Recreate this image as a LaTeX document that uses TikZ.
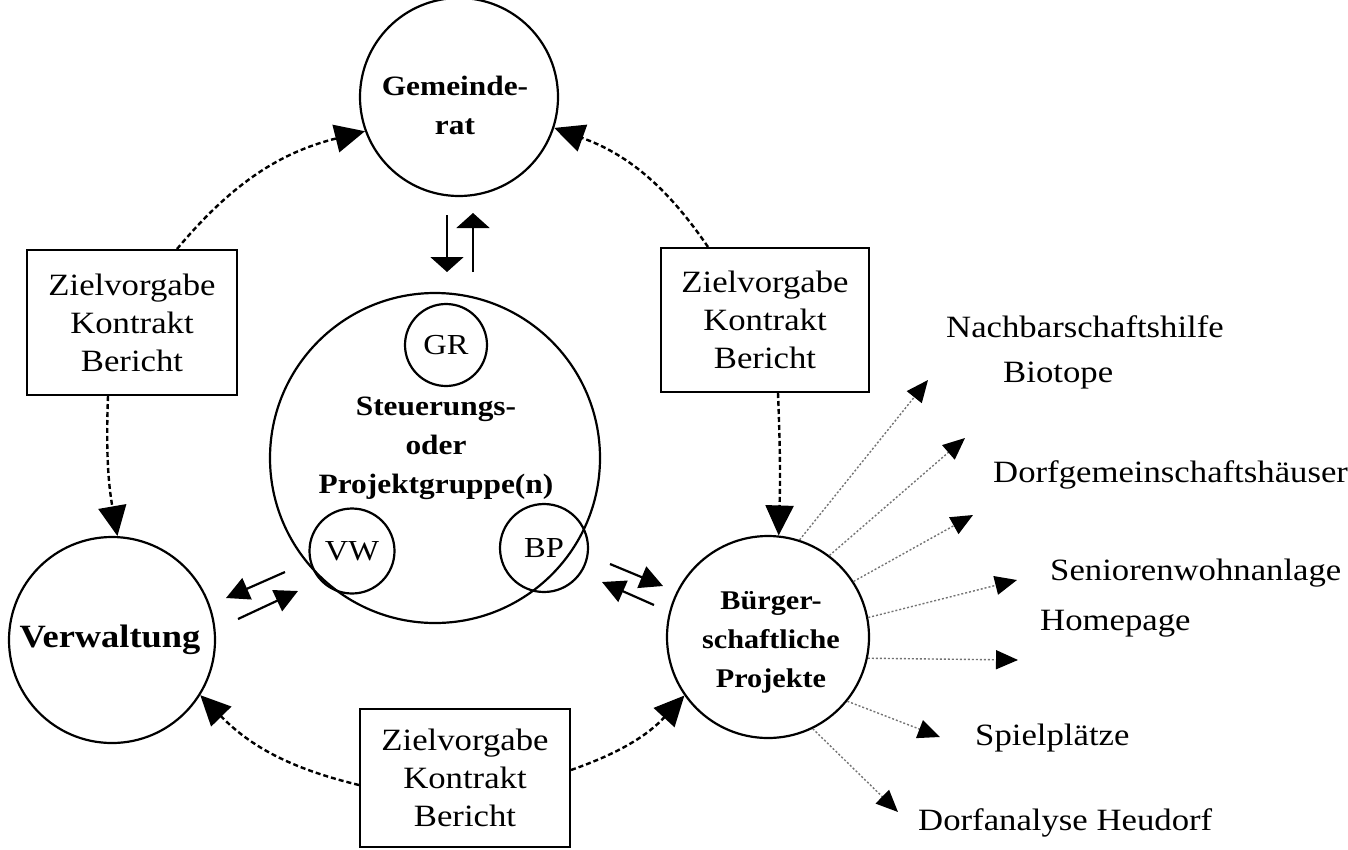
\documentclass[tikz,border=0pt]{standalone}
\usepackage{fontspec}
\setmainfont{Liberation Serif}[FakeStretch=1.12]
\usetikzlibrary{arrows.meta,calc}
\begin{document}
\begin{tikzpicture}[x=1pt,y=-1pt,
  txt/.style={font=\fontsize{31}{38}\selectfont, align=center, inner sep=0pt},
  btxt/.style={font=\fontsize{28}{39}\selectfont\bfseries, align=center, inner sep=0pt},
  lbl/.style={font=\fontsize{31}{38}\selectfont, inner sep=0pt, anchor=mid west},
  circ/.style={draw, circle, line width=2.2pt, minimum size=#1, inner sep=0pt},
  zbox/.style={draw, line width=2pt, minimum width=210pt, minimum height=#1, inner sep=0pt,
    font=\fontsize{31}{38}\selectfont, align=center},
  dsh/.style={line width=2.4pt, dash pattern=on 5pt off 3pt, -{Triangle[length=30pt,width=28pt]}},
  fan/.style={line width=1.4pt, black!55, dash pattern=on 2pt off 2pt, -{Triangle[length=22pt,width=19pt,black]}},
  dblv/.style={line width=2.2pt, -{Triangle[length=15pt,width=33pt]}},
  dbls/.style={line width=2.2pt, -{Triangle[length=23pt,width=23pt]}}
]
\useasboundingbox (0,0) rectangle (1348,849);

% main circles
\node[circ=198pt] (gem) at (459,97) {};
\node[btxt] (gemt) at (455,105) {Gemeinde-\\rat};
\node[circ=206pt] (vw) at (112,640) {};
\node[btxt, font=\fontsize{32.5}{39}\selectfont\bfseries] (vwt) at (110,640) {Verwaltung};
\node[circ=202pt] (bp) at (768,637) {};
\node[btxt, font=\fontsize{27}{39}\selectfont\bfseries] (bpt) at (771,642) {Bürger-\\schaftliche\\Projekte};

% steering group
\node[circ=330pt] (sg) at (435,458) {};
\node[btxt] (sgt) at (436,448) {Steuerungs-\\oder\\Projektgruppe(n)};
\node[circ=82pt, font=\fontsize{29}{34}\selectfont] (gr) at (446,345) {GR};
\node[circ=85pt, font=\fontsize{29}{34}\selectfont] (svw) at (352,551) {VW};
\node[circ=88pt, font=\fontsize{29}{34}\selectfont] (sbp) at (544,548) {BP};

% boxes
\node[zbox=145pt] (lb) at (132,322.5) {Zielvorgabe\\Kontrakt\\Bericht};
\node[zbox=144pt, minimum width=208pt] (rb) at (765,320) {Zielvorgabe\\Kontrakt\\Bericht};
\node[zbox=138pt] (bb) at (465,778) {Zielvorgabe\\Kontrakt\\Bericht};

% dashed curved connectors
\draw[dsh] ([xshift=45pt]lb.north) to[bend left=18] (gem.200);
\draw[dsh] ([xshift=-57pt]rb.north) to[bend right=18] (gem.-18);
\draw[dsh] ([xshift=-24pt]lb.south) to[bend right=6] (vw.87);
\draw[dsh] ([xshift=13pt]rb.south) to[bend left=2] (bp.84);
\draw[dsh] ([yshift=-7pt]bb.west) to[bend left=16] (vw.-32);
\draw[dsh] ([yshift=8pt]bb.east) to[bend right=14] (bp.215);

% double arrows Gemeinderat <-> GR
\coordinate (ga1) at (447,215);
\coordinate (ga2) at (447,272);
\coordinate (gb1) at (473,272);
\coordinate (gb2) at (473,213);
\draw[dblv] (ga1) -- (ga2);
\draw[dblv] (gb1) -- (gb2);

% double arrows Verwaltung <-> group
\coordinate (la1) at (285,572);
\coordinate (la2) at (226,598);
\coordinate (lb1) at (238,619);
\coordinate (lb2) at (298,591);
\draw[dbls] (la1) -- (la2);
\draw[dbls] (lb1) -- (lb2);

% double arrows group <-> Buergerprojekte
\coordinate (ra1) at (610,564);
\coordinate (ra2) at (663,586);
\coordinate (rb1) at (654,605);
\coordinate (rb2) at (602,582);
\draw[dbls] (ra1) -- (ra2);
\draw[dbls] (rb1) -- (rb2);

% fan arrows
\coordinate (t1) at (928,380);
\coordinate (t2) at (965,438);
\coordinate (t3) at (973,515);
\coordinate (t4) at (1017,580);
\coordinate (t5) at (1018,660);
\coordinate (t6) at (940,737);
\coordinate (t7) at (898,812);
\draw[fan] (bp.72) -- (t1);
\draw[fan] (bp.53) -- (t2);
\draw[fan] (bp.33) -- (t3);
\draw[fan] (bp.11) -- (t4);
\draw[fan] (bp.-12) -- (t5);
\draw[fan] (bp.-39) -- (t6);
\draw[fan] (bp.-64) -- (t7);

% labels
\node[lbl] (l1) at (946,335) {Nachbarschaftshilfe};
\node[lbl] (l2) at (1003,380) {Biotope};
\node[lbl] (l3) at (993,480) {Dorfgemeinschaftshäuser};
\node[lbl] (l4) at (1050,578) {Seniorenwohnanlage};
\node[lbl] (l5) at (1040,628) {Homepage};
\node[lbl] (l6) at (975,743) {Spielplätze};
\node[lbl] (l7) at (918,828) {Dorfanalyse Heudorf};
\end{tikzpicture}
\end{document}
